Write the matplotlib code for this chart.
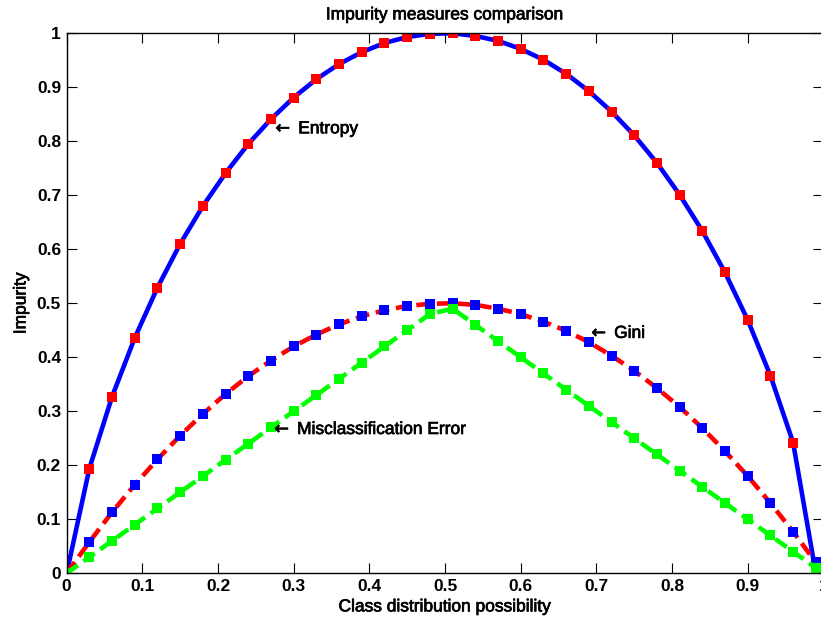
import numpy as np
import matplotlib
matplotlib.use('Agg')
import matplotlib.pyplot as plt
import matplotlib.patheffects as pe
from matplotlib.ticker import FormatStrFormatter

plt.rcParams['font.family'] = ['Liberation Sans', 'DejaVu Sans']

#%% Dados (x = probabilidade da classe)
p = [0.00, 0.03, 0.06, 0.09, 0.12, 0.15, 0.18, 0.21, 0.24, 0.27, 0.30, 0.33,
     0.36, 0.39, 0.42, 0.45, 0.48, 0.51, 0.54, 0.57, 0.60, 0.63, 0.66, 0.69,
     0.72, 0.75, 0.78, 0.81, 0.84, 0.87, 0.90, 0.93, 0.96, 0.99]

entropy = [0.000, 0.194, 0.327, 0.436, 0.529, 0.610, 0.680, 0.741, 0.795, 0.841,
           0.881, 0.915, 0.943, 0.965, 0.982, 0.993, 0.999, 1.000, 0.995, 0.986,
           0.971, 0.951, 0.925, 0.893, 0.855, 0.811, 0.760, 0.701, 0.634, 0.557,
           0.469, 0.366, 0.242, 0.000]

gini = [0.000, 0.058, 0.113, 0.164, 0.211, 0.255, 0.295, 0.332, 0.365, 0.394,
        0.420, 0.442, 0.461, 0.476, 0.487, 0.495, 0.499, 0.500, 0.497, 0.490,
        0.480, 0.466, 0.449, 0.428, 0.403, 0.375, 0.343, 0.308, 0.269, 0.226,
        0.180, 0.130, 0.077, 0.020]

miscl = [0.00, 0.03, 0.06, 0.09, 0.12, 0.15, 0.18, 0.21, 0.24, 0.27, 0.30, 0.33,
         0.36, 0.39, 0.42, 0.45, 0.48, 0.49, 0.46, 0.43, 0.40, 0.37, 0.34, 0.31,
         0.28, 0.25, 0.22, 0.19, 0.16, 0.13, 0.10, 0.07, 0.04, 0.01]

xticks = [0, 0.1, 0.2, 0.3, 0.4, 0.5, 0.6, 0.7, 0.8, 0.9, 1]
yticks = [0, 0.1, 0.2, 0.3, 0.4, 0.5, 0.6, 0.7, 0.8, 0.9, 1]

# texto um pouco mais "grosso", como no original
grosso = [pe.withStroke(linewidth=0.5, foreground='black')]

#%% Plot
fig = plt.figure(figsize=(8.21, 6.24), dpi=100)
ax = fig.add_axes([0.0812, 0.0813, 0.9217, 0.8654])

ax.plot(p, entropy, '-', color='#0000ff', linewidth=3.3,
        marker='s', markersize=6.8, markeredgewidth=0, markerfacecolor='#ff0000')
ax.plot(p, gini, '--', color='#ff0000', linewidth=3.3, dashes=(3.0, 1.5),
        marker='s', markersize=6.8, markeredgewidth=0, markerfacecolor='#0000ff')
ax.plot(p, miscl, '--', color='#00ff00', linewidth=3.3, dashes=(3.0, 1.5),
        marker='s', markersize=6.8, markeredgewidth=0, markerfacecolor='#00ff00')

ax.text(0.2715, 0.823, r'$\leftarrow$ Entropy', fontsize=12.5, va='center', ha='left',
        path_effects=grosso)
ax.text(0.689, 0.445, r'$\leftarrow$ Gini', fontsize=12.5, va='center', ha='left',
        path_effects=grosso)
ax.text(0.270, 0.267, r'$\leftarrow$ Misclassification Error', fontsize=12.5,
        va='center', ha='left', path_effects=grosso)

ax.set_xlim((0, 1))
ax.set_ylim((0, 1))
ax.set_xticks(xticks)
ax.set_yticks(yticks)
ax.xaxis.set_major_formatter(FormatStrFormatter('%g'))
ax.yaxis.set_major_formatter(FormatStrFormatter('%g'))
ax.tick_params(direction='in', length=7, width=0.8, top=True, right=True,
               labelsize=12.5, pad=4)
for lbl in ax.get_xticklabels() + ax.get_yticklabels():
    lbl.set_fontweight('bold')
for s in ax.spines.values():
    s.set_linewidth(1.0)

ax.set_title('Impurity measures comparison', fontsize=12.5, pad=10, path_effects=grosso)
ax.set_xlabel('Class distribution possibility', fontsize=12.5, labelpad=4,
              path_effects=grosso)
ax.set_ylabel('Impurity', fontsize=12.5, labelpad=6, path_effects=grosso)

fig.savefig('out.png', dpi=100)
